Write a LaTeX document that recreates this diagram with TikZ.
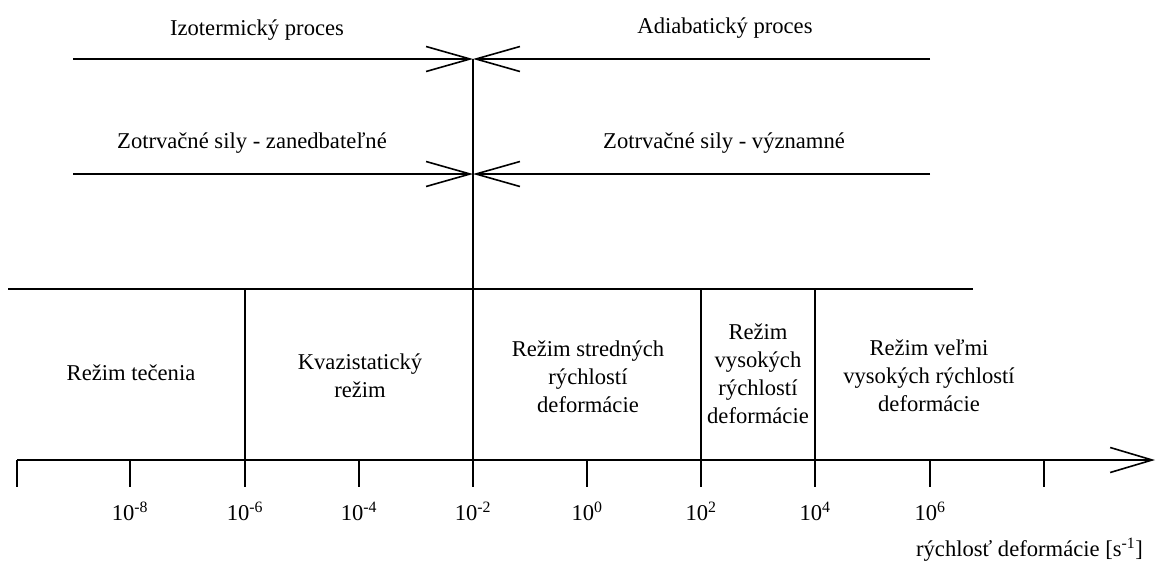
\documentclass[tikz,border=0pt]{standalone}
\usepackage{fontspec}
\setmainfont{Liberation Serif}
\usetikzlibrary{arrows.meta}
\begin{document}
\begin{tikzpicture}[x=1pt,y=-1pt,
  ln/.style={line width=1.6pt, line cap=butt},
  barb/.style={ln, -{Straight Barb[length=44pt,width=25pt,line width=1.6pt]}},
  axbarb/.style={ln, -{Straight Barb[length=42pt,width=25pt,line width=1.6pt]}},
  lbl/.style={inner sep=0pt, font=\fontsize{22.6pt}{28pt}\selectfont, align=center},
  ticklbl/.style={lbl, anchor=base}]
\useasboundingbox (0,0) rectangle (1157,563);
% coordinates
\coordinate (c1) at (473,59);
\coordinate (t1L) at (73,59);
\coordinate (t1R) at (930,59);
\coordinate (c2) at (473,174);
\coordinate (t2L) at (73,174);
\coordinate (t2R) at (930,174);
\coordinate (hL) at (8,289);
\coordinate (hR) at (973,289);
\coordinate (aL) at (17,460);
\coordinate (aR) at (1155,460);
% top arrows
\draw[barb] (t1L) -- (c1);
\draw[barb] (t1R) -- (c1);
\draw[barb] (t2L) -- (c2);
\draw[barb] (t2R) -- (c2);
% central vertical
\coordinate (v473) at (473,487);
\draw[ln] (c1) -- (v473);
% regime line
\draw[ln] (hL) -- (hR);
% regime separators
\foreach \x in {245,701,815} {
  \coordinate (s\x) at (\x,289);
  \coordinate (e\x) at (\x,487);
  \draw[ln] (s\x) -- (e\x);
}
% axis
\draw[axbarb] (aL) -- (aR);
\foreach \x in {17,130,359,587,930,1044} {
  \coordinate (ts\x) at (\x,460);
  \coordinate (te\x) at (\x,487);
  \draw[ln] (ts\x) -- (te\x);
}
% tick labels
\node[ticklbl] (l8) at (130,520) {10\textsuperscript{-8}};
\node[ticklbl] (l6) at (245,520) {10\textsuperscript{-6}};
\node[ticklbl] (l4) at (359,520) {10\textsuperscript{-4}};
\node[ticklbl] (l2) at (473,520) {10\textsuperscript{-2}};
\node[ticklbl] (l0) at (587,520) {10\textsuperscript{0}};
\node[ticklbl] (lp2) at (701,520) {10\textsuperscript{2}};
\node[ticklbl] (lp4) at (815,520) {10\textsuperscript{4}};
\node[ticklbl] (lp6) at (930,520) {10\textsuperscript{6}};
\node[lbl, anchor=base east] (axl) at (1143,556) {rýchlosť deformácie [s\textsuperscript{-1}]};
% top labels
\node[lbl, anchor=base] (izo) at (257,35) {Izotermický proces};
\node[lbl, anchor=base] (adia) at (725,33) {Adiabatický proces};
\node[lbl, anchor=base] (zan) at (252,148) {Zotrvačné sily - zanedbateľné};
\node[lbl, anchor=base] (vyz) at (724,148) {Zotrvačné sily - významné};
% regimes (anchor=base is the last line's baseline)
\node[lbl, anchor=base] (r1) at (131,380) {Režim tečenia};
\node[lbl, anchor=base] (r2) at (360,397) {Kvazistatický\\režim};
\node[lbl, anchor=base] (r3) at (588,412) {Režim stredných\\rýchlostí\\deformácie};
\node[lbl, anchor=base] (r4) at (758,423) {Režim\\vysokých\\rýchlostí\\deformácie};
\node[lbl, anchor=base] (r5) at (929,411) {Režim veľmi\\vysokých rýchlostí\\deformácie};
\end{tikzpicture}
\end{document}
